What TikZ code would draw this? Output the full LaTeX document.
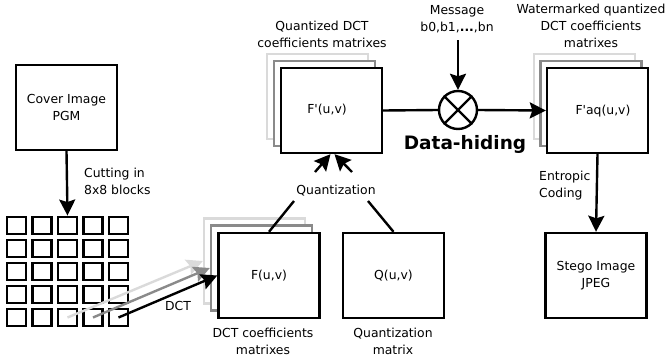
\documentclass[tikz,border=0pt]{standalone}
\usepackage{fontspec}
\setmainfont{DejaVu Sans}
\usetikzlibrary{arrows.meta,calc}
\definecolor{lgray}{HTML}{DADADA}
\definecolor{mgray}{HTML}{8A8A8A}
\begin{document}
\begin{tikzpicture}[x=1pt,y=-1pt,
  txt/.style={font=\fontsize{12.4}{17}\selectfont, align=center, inner sep=0pt},
  box/.style={draw, line width=2.4pt, minimum width=101pt, minimum height=85pt, inner sep=0pt, fill=white},
  cell/.style={draw, line width=2.4pt, minimum width=19pt, minimum height=17.5pt, inner sep=0pt},
  arr/.style={line width=2.4pt, -{Stealth[length=16pt,width=16pt,inset=2.5pt]}},
  ln/.style={line width=2.4pt}]
\useasboundingbox (0,0) rectangle (670,362);

% Cover image
\node[box, txt] (cover) at (66.5,107.5) {Cover Image\\PGM};
\node[txt, anchor=west, align=left] (cut) at (84,181.5) {Cutting in\\8x8 blocks};

% grid
\foreach \r/\y in {1/225.5,2/248.5,3/271.5,4/294.5,5/317.5}{
  \foreach \c/\x in {1/16.5,2/42,3/67.5,4/93,5/118.5}{
    \node[cell] (g\r\c) at (\x,\y) {};
  }
}
\draw[arr] (cover.south) -- (g13.north);

% F stack
\node[box, draw=lgray] (Fl) at (254.5,261) {};
\node[box, draw=mgray] (Fm) at (261.5,268) {};
\node[box, txt] (F) at (269,275.5) {F(u,v)};
\node[txt] (Flab) at (263,341) {DCT coefficients\\matrixes};

\draw[arr, lgray] (g53.center) -- (Fl.west);
\draw[arr, mgray] (g54.center) -- (Fm.west);
\draw[arr] (g55.center) -- (F.west);
\node[txt] (dct) at (178,306) {DCT};

% Q box
\node[box, txt] (Q) at (393.5,275.5) {Q(u,v)};
\node[txt] (Qlab) at (393,341.5) {Quantization\\matrix};

% F' stack
\node[box, draw=lgray] (FPl) at (317.5,96.5) {};
\node[box, draw=mgray] (FPm) at (324.5,103.5) {};
\node[box] (FP) at (331.5,110.5) {};
\node[txt] (FPt) at (327,110) {F\textquotesingle(u,v)};
\node[txt] (FPlab) at (322,34.5) {Quantized DCT\\coefficients matrixes};

% quantization
\node[txt] (quant) at (336,191) {Quantization};
\coordinate (ql1) at (294,201);
\coordinate (ql2) at (368,201);
\coordinate (qa1) at (315,172);
\coordinate (qa2) at (352,172);
\draw[ln] (F.north) -- (ql1);
\draw[ln] (Q.north) -- (ql2);
\draw[arr] (qa1) -- ($(FP.south)+(-1,0)$);
\draw[arr] (qa2) -- ($(FP.south)+(3,0)$);

% data hiding
\node[draw, circle, line width=2.4pt, minimum size=38pt, inner sep=0pt] (circ) at (458,110) {};
\draw[ln] (circ.45) -- (circ.225);
\draw[ln] (circ.135) -- (circ.-45);
\node[font=\fontsize{18.5}{20}\selectfont\bfseries, inner sep=0pt] (dh) at (465,144) {Data-hiding};
\node[txt] (msg) at (457,19.5) {Message\\b0,b1,\textbf{...},bn};
\coordinate (mstart) at (458,40);
\draw[arr] (mstart) -- (circ.north);

% F'aq stack
\node[box, draw=lgray] (FQl) at (584.5,96.5) {};
\node[box, draw=mgray] (FQm) at (591,103.5) {};
\node[box] (FQ) at (597.5,110.5) {};
\node[txt] (FQt) at (603,111) {F\textquotesingle aq(u,v)};
\node[txt] (FQlab) at (591,25.5) {Watermarked quantized\\DCT coefficients\\matrixes};

\draw[ln] (FP.east) -- (circ.west);
\draw[arr] (circ.east) -- (FQ.west);

% stego
\node[box, txt] (S) at (596,275.5) {Stego Image\\JPEG};
\node[txt, anchor=west, align=left] (ent) at (539,185.5) {Entropic\\Coding};
\draw[arr] (FQ.south) -- (S.north);
\end{tikzpicture}
\end{document}
